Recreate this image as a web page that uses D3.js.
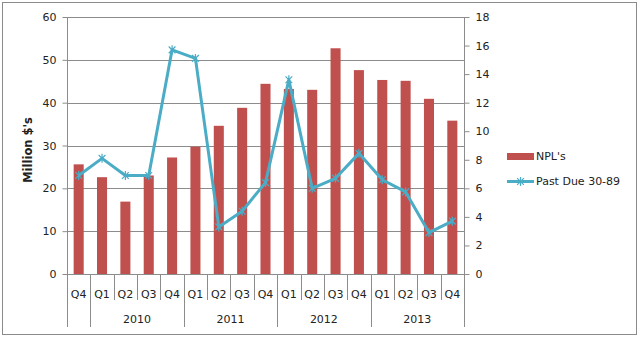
<!DOCTYPE html>
<html><head><meta charset="utf-8">
<script src="https://cdn.jsdelivr.net/npm/d3@7/dist/d3.min.js"></script>
<style>body{margin:0;background:#fff;} svg{display:block;} text{font-family:"DejaVu Sans",sans-serif;}</style>
</head><body>
<svg id="c" width="640" height="338"></svg>
<script>
const quarters = ["Q4","Q1","Q2","Q3","Q4","Q1","Q2","Q3","Q4","Q1","Q2","Q3","Q4","Q1","Q2","Q3","Q4"];
const years = [{label:"",start:0,end:1},{label:"2010",start:1,end:5},{label:"2011",start:5,end:9},{label:"2012",start:9,end:13},{label:"2013",start:13,end:17}];
const npl = [25.6,22.6,16.9,23.0,27.2,29.7,34.6,38.8,44.4,43.2,43.0,52.7,47.6,45.3,45.1,40.9,35.8];
const pastDue = [6.9,8.1,6.9,6.9,15.7,15.1,3.3,4.4,6.4,13.6,6.0,6.7,8.45,6.6,5.75,2.9,3.7];
const leftTicks = [0,10,20,30,40,50,60];
const rightTicks = [0,2,4,6,8,10,12,14,16,18];
const seriesNames = ["NPL's","Past Due 30-89"];

const svg = d3.select("#c");
const barColor = "#C0504D", lineColor = "#4BACC6", gridColor = "#8C8C8C", txt = "#222";
const L = 67, R = 464, T = 17, B = 274;

svg.append("rect").attr("x",2.5).attr("y",2.5).attr("width",634).attr("height",332)
  .attr("fill","#fff").attr("stroke","#8a8a8a").attr("stroke-width",1);

const x = d3.scaleBand().domain(d3.range(quarters.length)).range([L,R]).padding(0);
const yL = d3.scaleLinear().domain([0,60]).range([B,T]);
const yR = d3.scaleLinear().domain([0,18]).range([B,T]);

// gridlines
svg.append("g").selectAll("line").data(leftTicks).join("line")
  .attr("x1",L).attr("x2",R).attr("y1",d=>Math.round(yL(d))+0.5).attr("y2",d=>Math.round(yL(d))+0.5)
  .attr("stroke",gridColor).attr("stroke-width",1);

// bars
const bw = x.bandwidth()*0.43;
svg.append("g").selectAll("rect").data(npl).join("rect")
  .attr("x",(d,i)=>x(i)+x.bandwidth()/2-bw/2).attr("width",bw)
  .attr("y",d=>yL(d)).attr("height",d=>B-yL(d)).attr("fill",barColor);

// axes lines
svg.append("line").attr("x1",L+0.5).attr("x2",L+0.5).attr("y1",T).attr("y2",B).attr("stroke",gridColor);
svg.append("line").attr("x1",R+0.5).attr("x2",R+0.5).attr("y1",T).attr("y2",B).attr("stroke",gridColor);

// left axis
const gl = svg.append("g").attr("transform",`translate(${L+0.5},0)`)
  .call(d3.axisLeft(yL).tickValues(leftTicks).tickSize(5).tickPadding(6));
gl.select(".domain").remove();
gl.selectAll("line").attr("stroke",gridColor);
gl.selectAll("text").attr("font-size",11).attr("fill",txt).attr("font-family","DejaVu Sans");

// right axis
const gr = svg.append("g").attr("transform",`translate(${R+0.5},0)`)
  .call(d3.axisRight(yR).tickValues(rightTicks).tickSize(5).tickPadding(6));
gr.select(".domain").remove();
gr.selectAll("line").attr("stroke",gridColor);
gr.selectAll("text").attr("font-size",11).attr("fill",txt).attr("font-family","DejaVu Sans");

// x axis category separators
const bounds = d3.range(quarters.length+1);
const yearBounds = new Set(years.flatMap(y=>[y.start,y.end]));
svg.append("g").selectAll("line").data(bounds).join("line")
  .attr("x1",i=>Math.round(i<quarters.length?x(i):R)+0.5).attr("x2",i=>Math.round(i<quarters.length?x(i):R)+0.5)
  .attr("y1",B).attr("y2",i=>yearBounds.has(i)?327:300)
  .attr("stroke",gridColor);

svg.append("g").selectAll("text").data(quarters).join("text")
  .attr("x",(d,i)=>x(i)+x.bandwidth()/2).attr("y",298)
  .attr("text-anchor","middle").attr("font-size",11).attr("fill",txt).text(d=>d);

svg.append("g").selectAll("text").data(years).join("text")
  .attr("x",d=>(x(d.start)+(d.end<quarters.length?x(d.end):R))/2).attr("y",323)
  .attr("text-anchor","middle").attr("font-size",11).attr("fill",txt).text(d=>d.label);

// y title
svg.append("text").attr("transform",`translate(32,150) rotate(-90)`)
  .attr("text-anchor","middle").attr("font-size",11.5).attr("font-weight","bold")
  .attr("font-family","Liberation Sans").attr("fill",txt).text("Million $'s");

// line
const line = d3.line().x((d,i)=>x(i)+x.bandwidth()/2).y(d=>yR(d));
svg.append("path").datum(pastDue).attr("d",line).attr("fill","none")
  .attr("stroke",lineColor).attr("stroke-width",3).attr("stroke-linejoin","round");

function star(cx,cy,r){
  const a=r*0.75;
  return `M${cx-a},${cy-a}L${cx+a},${cy+a}M${cx-a},${cy+a}L${cx+a},${cy-a}M${cx},${cy-r}L${cx},${cy+r}`;
}
svg.append("g").selectAll("path").data(pastDue).join("path")
  .attr("d",(d,i)=>star(x(i)+x.bandwidth()/2,yR(d),4.5))
  .attr("stroke",lineColor).attr("stroke-width",1.2).attr("fill","none");

// legend
svg.append("rect").attr("x",507).attr("y",153).attr("width",27).attr("height",7).attr("fill",barColor);
svg.append("text").attr("x",536).attr("y",160).attr("font-size",11).attr("fill",txt).text(seriesNames[0]);
svg.append("line").attr("x1",507).attr("x2",534).attr("y1",181.5).attr("y2",181.5).attr("stroke",lineColor).attr("stroke-width",3);
svg.append("path").attr("d",star(520.5,181.5,4.5)).attr("stroke",lineColor).attr("stroke-width",1.2).attr("fill","none");
svg.append("text").attr("x",536).attr("y",185).attr("font-size",11).attr("fill",txt).text(seriesNames[1]);
</script>
</body></html>
